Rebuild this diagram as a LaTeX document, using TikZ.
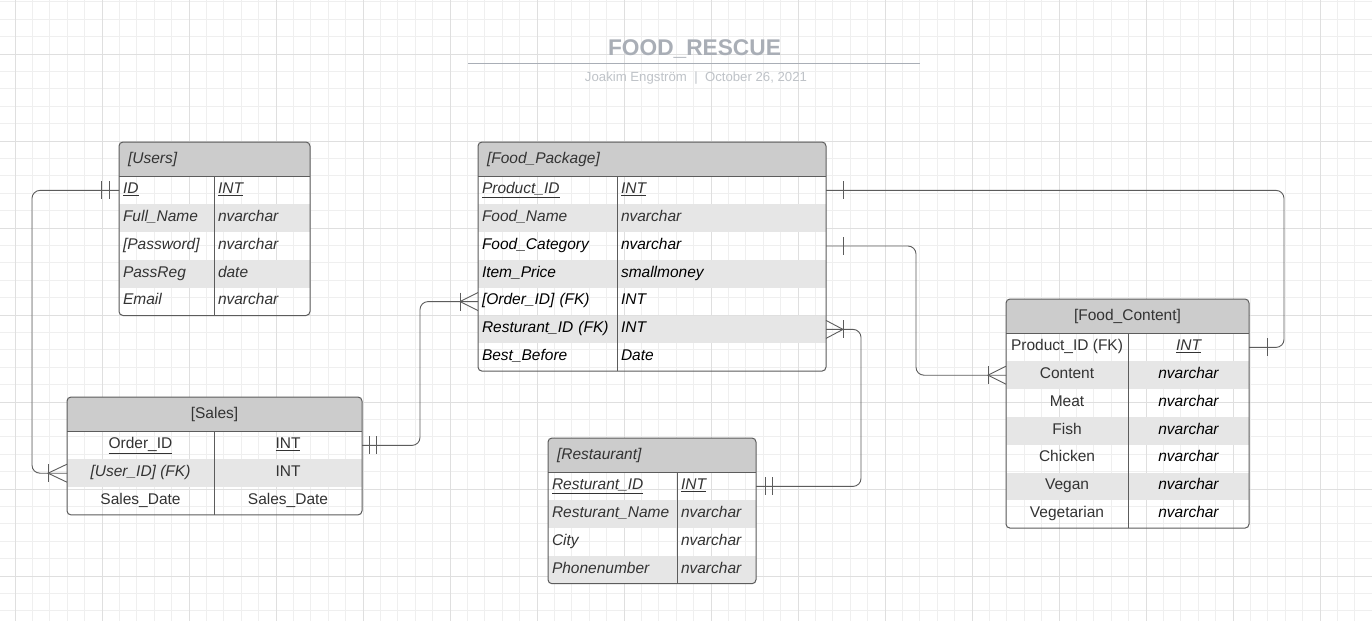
\documentclass[tikz,border=0pt]{standalone}
\usepackage{fontspec}
\setmainfont{Liberation Sans}
\usepackage{tikz}
\usetikzlibrary{positioning, calc}
\definecolor{hdrgrey}{HTML}{CCCCCC}
\definecolor{rowgrey}{HTML}{E6E6E6}
\definecolor{edgegrey}{HTML}{5C5C5C}
\definecolor{textgrey}{HTML}{333333}
\definecolor{titlegrey}{HTML}{A9AEB6}
\definecolor{subgrey}{HTML}{BFC3C8}
\definecolor{gridminor}{HTML}{EFEFEF}
\definecolor{gridmajor}{HTML}{DFDFDF}
\newcommand{\erfont}{\fontsize{15.5}{18}\selectfont}

\begin{document}
\begin{tikzpicture}[x=1pt,y=-1pt]
	\def \hdrht{34.5pt}
	\def \rowht{27.8pt}
	\def \onebar#1#2{\draw[er-line] ([xshift=#2pt]#1) ++(0,-9) -- ++(0,18);}
	\def \crowfoot#1#2{\draw[er-line] ([yshift=-9pt]#1) -- ([xshift=#2pt]#1) -- ([yshift=9pt]#1); \onebar{#1}{#2}}
	\tikzstyle{grid-minor}=[draw=gridminor, line width=0.7pt]
	\tikzstyle{grid-major}=[draw=gridmajor, line width=0.7pt]
	\tikzstyle{title-node}=[anchor=base, text=titlegrey, font=\fontsize{22.7}{26}\selectfont\bfseries]
	\tikzstyle{sub-node}=[anchor=base, text=subgrey, font=\fontsize{13.2}{15}\selectfont]
	\tikzstyle{hdr-node}=[fill=hdrgrey, inner xsep=9pt, inner ysep=0pt, outer sep=0pt, minimum height=\hdrht, text height=11pt, text depth=3.4pt, anchor=north west, text=textgrey, font=\erfont]
	\tikzstyle{cell}=[inner xsep=4pt, inner ysep=0pt, outer sep=0pt, minimum height=\rowht, text height=11pt, text depth=4.6pt, text=textgrey, font=\erfont]
	\tikzstyle{row-fill}=[fill=rowgrey]
	\tikzstyle{er-line}=[draw=edgegrey, line width=0.9pt]
	\tikzstyle{tbl-border}=[draw=edgegrey, line width=1pt, rounded corners=4pt]
	\tikzstyle{usr-a}=[cell, text width=87pt, align=left, font=\erfont\itshape]
	\tikzstyle{usr-b}=[cell, text width=88pt, align=left, font=\erfont\itshape]
	\tikzstyle{fp-a}=[cell, text width=131pt, align=left, font=\erfont\itshape]
	\tikzstyle{fp-b}=[cell, text width=201pt, align=left, font=\erfont\itshape]
	\tikzstyle{sal-a}=[cell, minimum width=147pt, align=center]
	\tikzstyle{sal-b}=[cell, minimum width=148pt, align=center]
	\tikzstyle{res-a}=[cell, text width=121pt, align=left, font=\erfont\itshape]
	\tikzstyle{res-b}=[cell, text width=71pt, align=left, font=\erfont\itshape]
	\tikzstyle{fc-a}=[cell, minimum width=122pt, align=center]
	\tikzstyle{fc-b}=[cell, minimum width=121pt, align=center, text=black, font=\erfont\itshape]

	\useasboundingbox (0,0) rectangle (1372,621);
	\fill[white] (0,0) rectangle (1372,621);

	% background grid
	\foreach \gx in {15,32.4,...,1372} \draw[grid-minor] (\gx,0) -- (\gx,621);
	\foreach \gy in {1.8,19.2,...,621} \draw[grid-minor] (0,\gy) -- (1372,\gy);
	\foreach \gx in {15,102,...,1372} \draw[grid-major] (\gx,0) -- (\gx,621);
	\foreach \gy in {54,141,...,621} \draw[grid-major] (0,\gy) -- (1372,\gy);

	% title
	\node[title-node] (title) at (694.5,55) {FOOD\_RESCUE};
	\draw[draw=titlegrey, line width=1.6pt] (468,63.5) -- (920,63.5);
	\node[sub-node] (subtitle) at (696,81) {Joakim Engström\ \ |\ \ October 26, 2021};

	% users
	\begin{scope}
	\clip[rounded corners=4pt] (119,142) rectangle (310,315.5);
	\node[hdr-node, text width=173pt, align=left, font=\erfont\itshape] (u-hdr) at (119,142) {[Users]};
	\node[usr-a, below right=0pt and 0pt of u-hdr.south west] (u-id) {\underline{ID}};
	\node[usr-b, right=0pt of u-id] (u-idt) {\underline{INT}};
	\node[usr-a, row-fill, below=0pt of u-id] (u-name) {Full\_Name};
	\node[usr-b, row-fill, right=0pt of u-name] (u-namet) {nvarchar};
	\node[usr-a, below=0pt of u-name] (u-pass) {[Password]};
	\node[usr-b, right=0pt of u-pass] (u-passt) {nvarchar};
	\node[usr-a, row-fill, below=0pt of u-pass] (u-reg) {PassReg};
	\node[usr-b, row-fill, right=0pt of u-reg] (u-regt) {date};
	\node[usr-a, below=0pt of u-reg] (u-mail) {Email};
	\node[usr-b, right=0pt of u-mail] (u-mailt) {nvarchar};
	\end{scope}
	\draw[tbl-border] (u-hdr.north west) rectangle (u-mailt.south east);
	\draw[tbl-border] (u-hdr.south west) -- (u-hdr.south east);
	\draw[tbl-border] (u-idt.north west) -- (u-mailt.south west);

	% food package
	\begin{scope}
	\clip[rounded corners=4pt] (478,142) rectangle (826,371.1);
	\node[hdr-node, text width=330pt, align=left, font=\erfont\itshape] (fp-hdr) at (478,142) {[Food\_Package]};
	\node[fp-a, below right=0pt and 0pt of fp-hdr.south west] (fp-pid) {\underline{Product\_ID}};
	\node[fp-b, right=0pt of fp-pid] (fp-pidt) {\underline{INT}};
	\node[fp-a, row-fill, below=0pt of fp-pid] (fp-name) {Food\_Name};
	\node[fp-b, row-fill, right=0pt of fp-name] (fp-namet) {nvarchar};
	\node[fp-a, text=black, below=0pt of fp-name] (fp-cat) {Food\_Category};
	\node[fp-b, text=black, right=0pt of fp-cat] (fp-catt) {nvarchar};
	\node[fp-a, row-fill, text=black, below=0pt of fp-cat] (fp-price) {Item\_Price};
	\node[fp-b, row-fill, text=black, right=0pt of fp-price] (fp-pricet) {smallmoney};
	\node[fp-a, text=black, below=0pt of fp-price] (fp-oid) {[Order\_ID] (FK)};
	\node[fp-b, text=black, right=0pt of fp-oid] (fp-oidt) {INT};
	\node[fp-a, row-fill, text=black, below=0pt of fp-oid] (fp-rid) {Resturant\_ID (FK)};
	\node[fp-b, row-fill, text=black, right=0pt of fp-rid] (fp-ridt) {INT};
	\node[fp-a, text=black, below=0pt of fp-rid] (fp-best) {Best\_Before};
	\node[fp-b, text=black, right=0pt of fp-best] (fp-bestt) {Date};
	\end{scope}
	\draw[tbl-border] (fp-hdr.north west) rectangle (fp-bestt.south east);
	\draw[tbl-border] (fp-hdr.south west) -- (fp-hdr.south east);
	\draw[tbl-border] (fp-pidt.north west) -- (fp-bestt.south west);

	% sales
	\begin{scope}
	\clip[rounded corners=4pt] (67,397) rectangle (362,514.9);
	\node[hdr-node, minimum width=295pt, align=center] (s-hdr) at (67,397) {[Sales]};
	\node[sal-a, below right=0pt and 0pt of s-hdr.south west] (s-oid) {\underline{Order\_ID}};
	\node[sal-b, right=0pt of s-oid] (s-oidt) {\underline{INT}};
	\node[sal-a, row-fill, font=\erfont\itshape, below=0pt of s-oid] (s-uid) {[User\_ID] (FK)};
	\node[sal-b, row-fill, right=0pt of s-uid] (s-uidt) {INT};
	\node[sal-a, below=0pt of s-uid] (s-date) {Sales\_Date};
	\node[sal-b, right=0pt of s-date] (s-datet) {Sales\_Date};
	\end{scope}
	\draw[tbl-border] (s-hdr.north west) rectangle (s-datet.south east);
	\draw[tbl-border] (s-hdr.south west) -- (s-hdr.south east);
	\draw[tbl-border] (s-oidt.north west) -- (s-datet.south west);

	% restaurant
	\begin{scope}
	\clip[rounded corners=4pt] (548,438) rectangle (756,583.7);
	\node[hdr-node, text width=190pt, align=left, font=\erfont\itshape] (r-hdr) at (548,438) {[Restaurant]};
	\node[res-a, below right=0pt and 0pt of r-hdr.south west] (r-rid) {\underline{Resturant\_ID}};
	\node[res-b, right=0pt of r-rid] (r-ridt) {\underline{INT}};
	\node[res-a, row-fill, below=0pt of r-rid] (r-name) {Resturant\_Name};
	\node[res-b, row-fill, right=0pt of r-name] (r-namet) {nvarchar};
	\node[res-a, below=0pt of r-name] (r-city) {City};
	\node[res-b, right=0pt of r-city] (r-cityt) {nvarchar};
	\node[res-a, row-fill, below=0pt of r-city] (r-phone) {Phonenumber};
	\node[res-b, row-fill, right=0pt of r-phone] (r-phonet) {nvarchar};
	\end{scope}
	\draw[tbl-border] (r-hdr.north west) rectangle (r-phonet.south east);
	\draw[tbl-border] (r-hdr.south west) -- (r-hdr.south east);
	\draw[tbl-border] (r-ridt.north west) -- (r-phonet.south west);

	% food content
	\begin{scope}
	\clip[rounded corners=4pt] (1006,299) rectangle (1249,528.1);
	\node[hdr-node, minimum width=243pt, align=center] (fc-hdr) at (1006,299) {[Food\_Content]};
	\node[fc-a, below right=0pt and 0pt of fc-hdr.south west] (fc-pid) {Product\_ID (FK)};
	\node[fc-b, text=textgrey, right=0pt of fc-pid] (fc-pidt) {\underline{INT}};
	\node[fc-a, row-fill, below=0pt of fc-pid] (fc-cnt) {Content};
	\node[fc-b, row-fill, right=0pt of fc-cnt] (fc-cntt) {nvarchar};
	\node[fc-a, below=0pt of fc-cnt] (fc-meat) {Meat};
	\node[fc-b, right=0pt of fc-meat] (fc-meatt) {nvarchar};
	\node[fc-a, row-fill, below=0pt of fc-meat] (fc-fish) {Fish};
	\node[fc-b, row-fill, right=0pt of fc-fish] (fc-fisht) {nvarchar};
	\node[fc-a, below=0pt of fc-fish] (fc-chick) {Chicken};
	\node[fc-b, right=0pt of fc-chick] (fc-chickt) {nvarchar};
	\node[fc-a, row-fill, below=0pt of fc-chick] (fc-vegan) {Vegan};
	\node[fc-b, row-fill, right=0pt of fc-vegan] (fc-vegant) {nvarchar};
	\node[fc-a, below=0pt of fc-vegan] (fc-veg) {Vegetarian};
	\node[fc-b, right=0pt of fc-veg] (fc-vegt) {nvarchar};
	\end{scope}
	\draw[tbl-border] (fc-hdr.north west) rectangle (fc-vegt.south east);
	\draw[tbl-border] (fc-hdr.south west) -- (fc-hdr.south east);
	\draw[tbl-border] (fc-pidt.north west) -- (fc-vegt.south west);

	% relations
	\draw[er-line, rounded corners=8pt] (u-id.west) -- ++(-87,0) |- (s-uid.west);
	\draw[er-line, rounded corners=8pt] (s-oidt.east) -- ++(58,0) |- (fp-oid.west);
	\draw[er-line, rounded corners=8pt] (fp-ridt.east) -| ([xshift=105pt]r-ridt.east) -- (r-ridt.east);
	\draw[er-line, rounded corners=8pt] (fp-pidt.east) -| ([xshift=35pt]fc-pidt.east) -- (fc-pidt.east);
	\draw[er-line, rounded corners=8pt] (fp-catt.east) -| ([xshift=-90pt]fc-cnt.west) -- (fc-cnt.west);

	% cardinality marks
	\onebar{u-id.west}{-18} \onebar{u-id.west}{-10}
	\crowfoot{s-uid.west}{-19}
	\onebar{s-oidt.east}{7} \onebar{s-oidt.east}{14}
	\crowfoot{fp-oid.west}{-18}
	\crowfoot{fp-ridt.east}{17}
	\onebar{r-ridt.east}{9} \onebar{r-ridt.east}{16}
	\onebar{fp-pidt.east}{17}
	\onebar{fp-catt.east}{17}
	\onebar{fc-pidt.east}{18}
	\crowfoot{fc-cnt.west}{-18}
\end{tikzpicture}
\end{document}
